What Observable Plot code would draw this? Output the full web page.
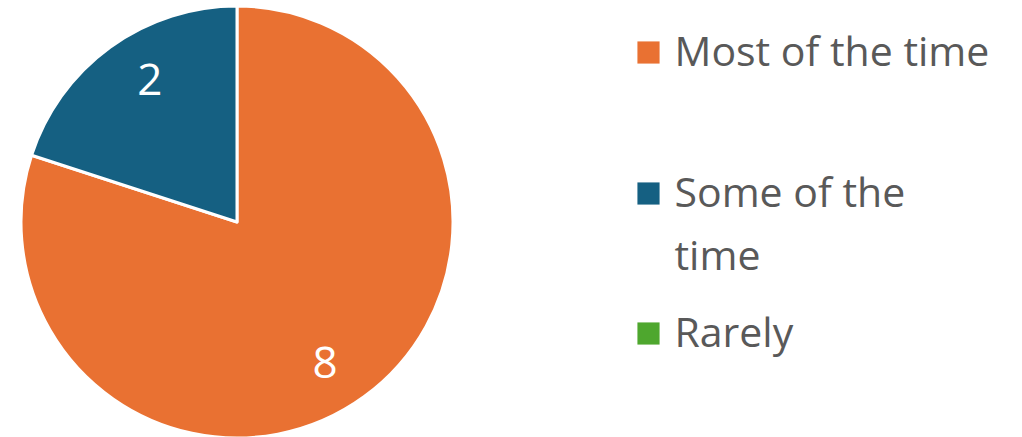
<!DOCTYPE html>
<html>
<head>
<meta charset="utf-8">
<script src="https://cdn.jsdelivr.net/npm/d3@7"></script>
<script src="https://cdn.jsdelivr.net/npm/@observablehq/plot@0.6"></script>
<style>
  html, body { margin: 0; padding: 0; background: #fff; }
  svg { display: block; }
</style>
</head>
<body>
<div id="chart"></div>
<script>
const categories = ["Most of the time", "Some of the time", "Rarely"];
const values = [8, 2, 0];
const colors = ["#E97132", "#156082", "#4EA72E"];
const legendLines = [["Most of the time"], ["Some of the", "time"], ["Rarely"]];

const W = 1022, H = 437;
const cx = 237, cy = 222, R = 216;
const FONT = "'Open Sans', sans-serif";

const data = categories.map((c, i) => ({category: c, value: values[i], color: colors[i]}));
const arcs = d3.pie().sort(null).value(d => d.value).startAngle(0).endAngle(2 * Math.PI)(data);
const unitArc = d3.arc().innerRadius(1).outerRadius(1);
const labels = arcs.filter(a => a.data.value > 0).map(a => {
  const [ux, uy] = unitArc.centroid(a);
  return {x: cx + ux * R * 0.69, y: cy + uy * R * 0.81, text: String(a.data.value)};
});

// legend entries
const legendTop = [52, 193, 333];
const lineGap = 63;
const legendSquares = data.map((d, i) => ({x: 648, y: legendTop[i], color: d.color}));
const legendTexts = [];
legendLines.forEach((lines, i) => lines.forEach((t, j) => legendTexts.push({x: 674, y: legendTop[i] + j * lineGap, text: t})));

function pieMark(index, scales, values, dimensions, context) {
  const g = d3.create("svg:g");
  const arc = d3.arc().innerRadius(0).outerRadius(R);
  const X = scales.x(cx), Y = scales.y(cy);
  g.selectAll("path")
    .data(arcs.filter(a => a.data.value > 0))
    .join("path")
    .attr("transform", `translate(${X},${Y})`)
    .attr("d", arc)
    .attr("fill", a => a.data.color)
    .attr("stroke", "#fff")
    .attr("stroke-width", 3)
    .attr("stroke-linejoin", "round");
  return g.node();
}

const chart = Plot.plot({
  width: W,
  height: H,
  margin: 0,
  x: {domain: [0, W], range: [0, W], axis: null},
  y: {domain: [0, H], range: [0, H], axis: null},
  style: {fontFamily: FONT, background: "#fff"},
  marks: [
    pieMark,
    Plot.text(labels, {x: "x", y: "y", text: "text", fill: "#fff", fontSize: 44, fontFamily: FONT, textAnchor: "middle", lineAnchor: "middle"}),
    Plot.dot(legendSquares, {x: "x", y: "y", fill: "color", symbol: "square", r: 12.5, stroke: null}),
    Plot.text(legendTexts, {x: "x", y: "y", text: "text", fill: "#595959", fontSize: 41, fontFamily: FONT, textAnchor: "start", lineAnchor: "middle"})
  ]
});
document.getElementById("chart").appendChild(chart);
</script>
</body>
</html>
